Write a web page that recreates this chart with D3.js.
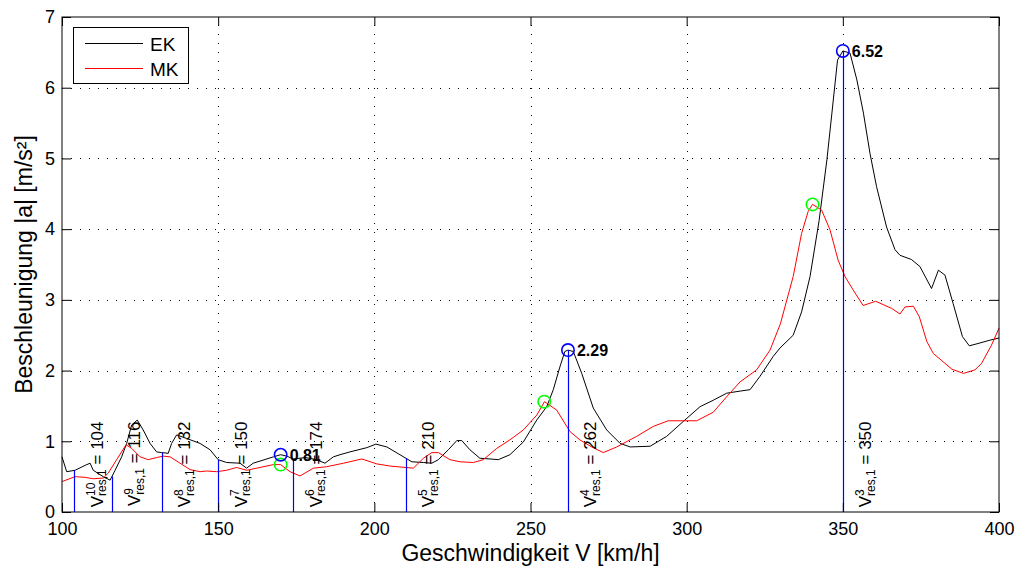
<!DOCTYPE html>
<html><head><meta charset="utf-8">
<script src="https://cdn.jsdelivr.net/npm/d3@7"></script>
<style>body{margin:0;background:#fff} text{font-family:"Liberation Sans",Arial,Helvetica,sans-serif}</style>
</head><body><svg id="c" width="1021" height="568"></svg>
<script>
const xTicks=[100,150,200,250,300,350,400];
const yTicks=[0,1,2,3,4,5,6,7];
const seriesNames=["EK","MK"];
const ekSpeed=[100,101.5,104.2,107.4,109,110,113.2,115.4,117,119.1,120.7,122.3,124.1,126,128.2,130.3,131.9,134,135.1,136.7,139.9,144.2,147.4,150,152.7,157,159.1,161.2,163.4,167.7,170,172,174,178,181.5,184.2,186.9,189,192.2,197.6,200.5,204,208.2,212,215.7,218.4,220.5,223.7,226.4,228,230.6,233.8,237,239.7,243.4,247.7,252,255.2,257.3,259.4,261,262,263.7,266.4,270.1,274.4,278.7,281.9,288.3,293.6,298.9,304.3,308.5,312.8,317.1,320.3,323.5,327.7,329.9,334.1,336.8,339.5,342.4,344.9,346.5,348.3,350,352.3,354.5,356.6,358.7,360.8,364,366.7,368.3,372,374.7,378.4,380.6,382.7,385.3,388.3,390.5,393.9,397.1,400];
const ekAccel=[0.78,0.57,0.59,0.66,0.69,0.59,0.50,0.45,0.59,0.78,0.97,1.23,1.30,1.16,0.97,0.85,0.84,0.83,0.97,1.09,1.04,0.97,0.88,0.74,0.70,0.69,0.62,0.69,0.72,0.78,0.81,0.79,0.75,0.77,0.74,0.69,0.78,0.81,0.85,0.91,0.96,0.92,0.81,0.71,0.70,0.69,0.74,0.88,1.01,1.01,0.88,0.76,0.75,0.74,0.81,0.99,1.30,1.49,1.73,2.05,2.27,2.29,2.27,1.96,1.47,1.16,0.97,0.92,0.93,1.07,1.28,1.49,1.58,1.68,1.71,1.73,1.92,2.20,2.32,2.50,2.83,3.33,4.12,4.98,5.64,6.39,6.52,6.49,6.11,5.64,5.07,4.60,4.03,3.71,3.63,3.57,3.47,3.16,3.42,3.35,2.95,2.48,2.35,2.39,2.43,2.46];
const mkSpeed=[100,104.2,107.4,110,113.2,114.8,117.5,120.5,122.3,125,127.6,130.3,132.4,134.6,137.8,141,144.2,146.3,149.5,152.7,155.9,159.1,163.4,167.7,170,173,176.2,180.5,184.7,190.1,196,200.8,205,212.5,215.7,218.4,220.5,224.2,227.4,231.7,234.9,239.2,243.4,247.7,252,254.5,258.4,262.6,265.8,269.6,273.3,277.6,284,289.3,294.1,303.2,308.5,312.8,317.1,322.4,326.7,330,334.1,336.8,338.9,340.3,343.2,345.9,348.5,350.7,353.3,356.5,360.5,365.6,368.3,369.9,372.6,374.5,376.9,379,381.7,384.9,388.6,392.3,394.4,397.6,400];
const mkAccel=[0.43,0.50,0.49,0.47,0.48,0.55,0.74,0.95,0.90,0.78,0.74,0.77,0.79,0.78,0.69,0.60,0.57,0.58,0.57,0.59,0.63,0.59,0.63,0.67,0.67,0.57,0.51,0.62,0.64,0.69,0.75,0.68,0.65,0.62,0.76,0.84,0.84,0.74,0.71,0.70,0.74,0.90,1.02,1.16,1.37,1.56,1.44,1.14,1.02,0.92,0.84,0.92,1.07,1.21,1.29,1.29,1.41,1.63,1.84,2.01,2.29,2.66,3.33,3.94,4.25,4.35,4.27,3.99,3.56,3.33,3.14,2.92,2.98,2.88,2.80,2.90,2.91,2.76,2.41,2.24,2.14,2.02,1.96,2.01,2.10,2.36,2.60];
const resSpeed=[104,116,132,150,174,210,262,350];
const resOrder=["10","9","8","7","6","5","4","3"];
const ekPeakSpeed=[170,262,350];
const ekPeakAccel=[0.81,2.29,6.52];
const mkPeakSpeed=[170,254.4,340.3];
const mkPeakAccel=[0.67,1.56,4.35];

const svg=d3.select('#c');
const L=62,R=999,T=17,B=512;
const x=d3.scaleLinear().domain([100,400]).range([L,R]);
const y=d3.scaleLinear().domain([0,7]).range([B,T]);
const px=v=>Math.round(x(v))+0.5;
svg.append('rect').attr('width',1021).attr('height',568).attr('fill','#fff');

// grid
const grid=svg.append('g').attr('stroke','#000').attr('stroke-width',1).attr('stroke-dasharray','1,8');
grid.selectAll('.gx').data(xTicks.slice(1,-1)).enter().append('line')
  .attr('x1',d=>px(d)).attr('x2',d=>px(d)).attr('y1',B).attr('y2',T);
grid.selectAll('.gy').data(yTicks.slice(1,-1)).enter().append('line')
  .attr('y1',d=>Math.round(y(d))+0.5).attr('y2',d=>Math.round(y(d))+0.5).attr('x1',L).attr('x2',R);

// curves
const line=d3.line().x(d=>x(d[0])).y(d=>y(d[1]));
const ek=ekSpeed.map((s,i)=>[s,ekAccel[i]]);
const mk=mkSpeed.map((s,i)=>[s,mkAccel[i]]);
svg.append('path').datum(ek).attr('d',line).attr('fill','none').attr('stroke','#000').attr('stroke-width',1);
svg.append('path').datum(mk).attr('d',line).attr('fill','none').attr('stroke','#f00').attr('stroke-width',1);

// resonance lines
function ekAt(v){
  const i=d3.bisectLeft(ekSpeed,v);
  if(i<=0) return ekAccel[0];
  const s0=ekSpeed[i-1],s1=ekSpeed[i],a0=ekAccel[i-1],a1=ekAccel[i];
  return a0+(a1-a0)*(v-s0)/(s1-s0);
}
svg.append('g').selectAll('line').data(resSpeed).enter().append('line')
  .attr('x1',d=>px(d)).attr('x2',d=>px(d)).attr('y1',y(0)).attr('y2',d=>y(ekAt(d)))
  .attr('stroke','#00f').attr('stroke-width',1.2);

// markers
svg.append('g').selectAll('circle').data(mkPeakSpeed).enter().append('circle')
  .attr('cx',d=>x(d)).attr('cy',(d,i)=>y(mkPeakAccel[i])).attr('r',6.2)
  .attr('fill','none').attr('stroke','#0f0').attr('stroke-width',1.6);
svg.append('g').selectAll('circle').data(ekPeakSpeed).enter().append('circle')
  .attr('cx',d=>x(d)).attr('cy',(d,i)=>y(ekPeakAccel[i])).attr('r',6.2)
  .attr('fill','none').attr('stroke','#00f').attr('stroke-width',1.6);
svg.append('g').selectAll('text').data(ekPeakSpeed).enter().append('text')
  .attr('x',d=>x(d)+9).attr('y',(d,i)=>y(ekPeakAccel[i])+6)
  .attr('font-size',16).attr('font-weight','bold').attr('fill','#000')
  .text((d,i)=>ekPeakAccel[i].toFixed(2));

// resonance labels
const labG=svg.append('g').attr('fill','#000');
resSpeed.forEach((v,i)=>{
  const g=labG.append('g');
  const t=g.append('text').attr('font-size',17).text('V');
  const wV=t.node().getComputedTextLength();
  const sup=g.append('text').attr('x',wV).attr('y',-7.5).attr('font-size',12).text(resOrder[i]);
  const sub=g.append('text').attr('x',wV).attr('y',3.5).attr('font-size',12).text('res,1');
  const w2=Math.max(sup.node().getComputedTextLength(),sub.node().getComputedTextLength());
  const rest=g.append('text').attr('x',wV+w2+4.7).attr('font-size',17).text('= '+v);
  const W=wV+w2+4.7+rest.node().getComputedTextLength();
  g.attr('transform',`translate(${x(v)+28.5},${y(1.28)}) rotate(-90) translate(${-W},0)`);
});

// axes
function styleAxis(g){g.select('.domain').remove();g.selectAll('line').attr('stroke','#000');g.selectAll('text').attr('font-size',18).attr('fill','#000').attr('font-family','"Liberation Sans",Arial,sans-serif');}
svg.append('g').attr('transform',`translate(0,${B})`).call(d3.axisBottom(x).tickValues(xTicks).tickSize(-9).tickPadding(10).tickFormat(d3.format('d'))).call(styleAxis);
svg.append('g').attr('transform',`translate(0,${T})`).call(d3.axisTop(x).tickValues(xTicks).tickSize(-9).tickFormat('')).call(styleAxis);
svg.append('g').attr('transform',`translate(${L},0)`).call(d3.axisLeft(y).tickValues(yTicks).tickSize(-9).tickPadding(7).tickFormat(d3.format('d'))).call(styleAxis);
svg.append('g').attr('transform',`translate(${R},0)`).call(d3.axisRight(y).tickValues(yTicks).tickSize(-9).tickFormat('')).call(styleAxis);
svg.append('rect').attr('x',L).attr('y',T).attr('width',R-L).attr('height',B-T).attr('fill','none').attr('stroke','#000').attr('stroke-width',1);

// titles
svg.append('text').attr('x',(L+R)/2).attr('y',561).attr('text-anchor','middle').attr('font-size',23).text('Geschwindigkeit V [km/h]');
svg.append('text').attr('transform',`translate(32,${(T+B)/2}) rotate(-90)`).attr('text-anchor','middle').attr('font-size',23).text('Beschleunigung |a| [m/s²]');

// legend
const lg=svg.append('g');
lg.append('rect').attr('x',73.5).attr('y',27.5).attr('width',115).attr('height',56).attr('fill','#fff').attr('stroke','#000').attr('stroke-width',1);
const lc=['#000','#f00'];
seriesNames.forEach((n,i)=>{
  const yy=43.5+i*25;
  lg.append('line').attr('x1',85).attr('x2',143).attr('y1',yy).attr('y2',yy).attr('stroke',lc[i]).attr('stroke-width',1);
  lg.append('text').attr('x',150).attr('y',yy+7).attr('font-size',19).text(n);
});
</script></body></html>
